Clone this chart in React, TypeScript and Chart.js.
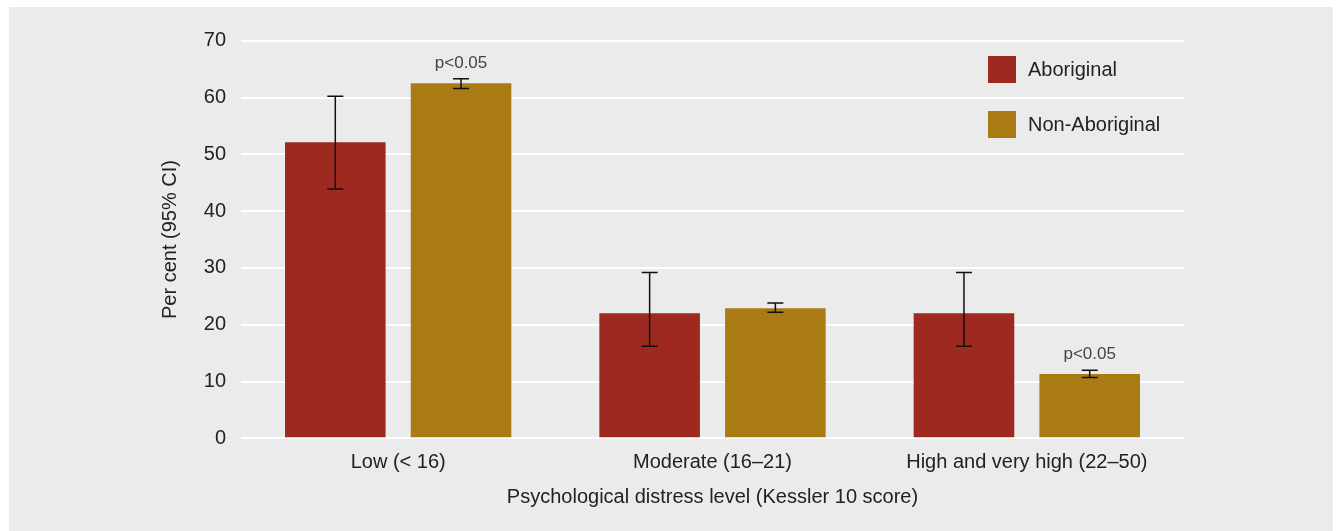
import React, { useEffect, useRef } from "react";
import { Chart, registerables } from "chart.js";

Chart.register(...registerables);

const categories = ["Low (< 16)", "Moderate (16–21)", "High and very high (22–50)"];
const seriesNames = ["Aboriginal", "Non-Aboriginal"];
const aboriginal = [52.1, 22.0, 22.0];
const aboriginalLow = [43.9, 16.2, 16.2];
const aboriginalHigh = [60.2, 29.2, 29.2];
const nonAboriginal = [62.5, 22.9, 11.3];
const nonAboriginalLow = [61.6, 22.2, 10.7];
const nonAboriginalHigh = [63.3, 23.8, 12.0];
const significance = [["", "p<0.05"], ["", ""], ["", "p<0.05"]];
const yTicks = [0, 10, 20, 30, 40, 50, 60, 70];
const colors = ["#9E2920", "#AA7B14"];

const FONT = "'Liberation Sans', Arial, Helvetica, sans-serif";

const errorBarPlugin = {
  id: "errorBars",
  afterDatasetsDraw(chart: any) {
    const { ctx } = chart;
    const y = chart.scales.y;
    const lows = [aboriginalLow, nonAboriginalLow];
    const highs = [aboriginalHigh, nonAboriginalHigh];
    ctx.save();
    chart.data.datasets.forEach((_ds: any, di: number) => {
      const meta = chart.getDatasetMeta(di);
      meta.data.forEach((bar: any, i: number) => {
        const x = bar.x;
        const yl = y.getPixelForValue(lows[di][i]);
        const yh = y.getPixelForValue(highs[di][i]);
        ctx.strokeStyle = "#111";
        ctx.lineWidth = 1.5;
        ctx.beginPath();
        ctx.moveTo(x, yl);
        ctx.lineTo(x, yh);
        ctx.moveTo(x - 8, yl);
        ctx.lineTo(x + 8, yl);
        ctx.moveTo(x - 8, yh);
        ctx.lineTo(x + 8, yh);
        ctx.stroke();
        const label = significance[i][di];
        if (label) {
          ctx.fillStyle = "#444";
          ctx.font = `17px ${FONT}`;
          ctx.textAlign = "center";
          ctx.textBaseline = "middle";
          ctx.fillText(label, x, yh - 15.5);
        }
      });
    });
    // legend inside plot area
    const area = chart.chartArea;
    const lx = area.right - 196;
    const rows = [49, 104];
    seriesNames.forEach((name, i) => {
      ctx.fillStyle = colors[i];
      ctx.fillRect(lx, rows[i], 28, 27);
      ctx.fillStyle = "#222";
      ctx.font = `20px ${FONT}`;
      ctx.textAlign = "left";
      ctx.textBaseline = "middle";
      ctx.fillText(name, lx + 40, rows[i] + 14);
    });
    ctx.restore();
  },
};

export default function App() {
  const ref = useRef<HTMLCanvasElement | null>(null);
  useEffect(() => {
    if (!ref.current) return;
    const chart = new Chart(ref.current, {
      type: "bar",
      data: {
        labels: categories,
        datasets: [
          { label: seriesNames[0], data: aboriginal, backgroundColor: colors[0], barPercentage: 0.8, categoryPercentage: 0.8 },
          { label: seriesNames[1], data: nonAboriginal, backgroundColor: colors[1], barPercentage: 0.8, categoryPercentage: 0.8 },
        ],
      },
      options: {
        animation: false,
        responsive: false,
        events: [],
        layout: { padding: { left: 140, right: 149, top: 33.7, bottom: 10 } },
        plugins: { legend: { display: false }, tooltip: { enabled: false } },
        scales: {
          x: {
            grid: { display: false, drawTicks: false },
            border: { display: false },
            ticks: { color: "#222", font: { family: FONT, size: 20 }, padding: 12 },
            title: {
              display: true,
              text: "Psychological distress level (Kessler 10 score)",
              color: "#222",
              font: { family: FONT, size: 20 },
              padding: { top: 0, bottom: 12 },
            },
            afterFit(scale: any) {
              scale.height = 82.7;
            },
          },
          y: {
            min: 0,
            max: 70,
            afterBuildTicks(scale: any) {
              scale.ticks = yTicks.map((v) => ({ value: v }));
            },
            grid: { color: "#FFFFFF", lineWidth: 2, drawTicks: false },
            border: { display: false },
            ticks: { color: "#222", font: { family: FONT, size: 20 }, padding: 15 },
            title: {
              display: true,
              text: "Per cent (95% CI)",
              color: "#222",
              font: { family: FONT, size: 20 },
              padding: { top: 9, bottom: 0 },
            },
            afterFit(scale: any) {
              scale.width = 92;
            },
          },
        },
      },
      plugins: [errorBarPlugin],
    });
    return () => chart.destroy();
  }, []);
  return (
    <div
      style={{
        position: "absolute",
        left: 9,
        top: 7,
        width: 1324,
        height: 524,
        background: "#EBEBEB",
      }}
    >
      <canvas ref={ref} width={1324} height={524} style={{ display: "block" }} />
    </div>
  );
}
